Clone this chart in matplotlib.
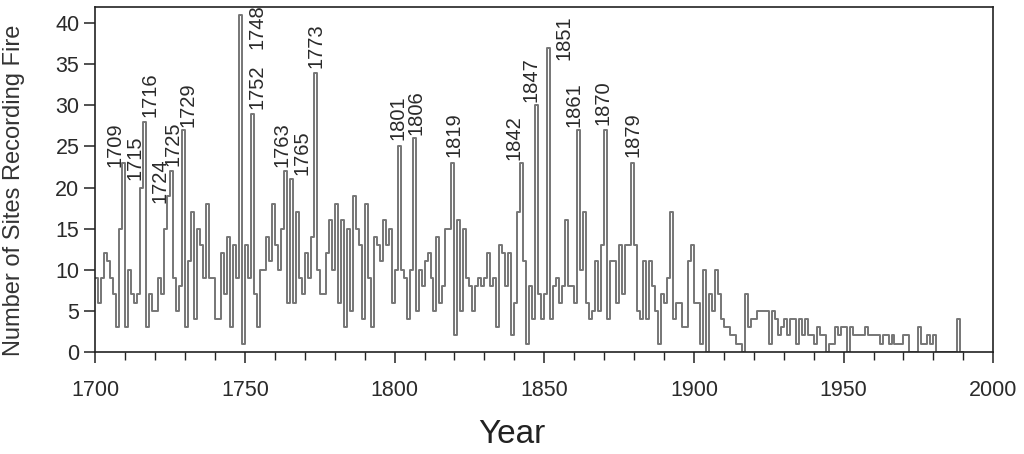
import matplotlib
matplotlib.use("Agg")
import matplotlib.pyplot as plt
from matplotlib.ticker import MultipleLocator

plt.rcParams['font.family'] = ['Liberation Sans', 'DejaVu Sans']

first_year = 1700
fires = [
    9, 6, 9, 12, 11, 9, 7, 3, 15, 23,        # 1700s
    3, 10, 7, 6, 7, 20, 28, 3, 7, 5,         # 1710s
    5, 9, 7, 15, 19, 22, 9, 5, 8, 27,        # 1720s
    3, 11, 17, 4, 15, 13, 9, 18, 9, 9,       # 1730s
    4, 4, 12, 7, 14, 3, 13, 9, 41, 1,        # 1740s
    13, 9, 29, 7, 3, 10, 10, 14, 11, 18,     # 1750s
    13, 10, 15, 22, 6, 21, 6, 17, 9, 7,      # 1760s
    12, 9, 14, 34, 10, 7, 7, 12, 16, 10,     # 1770s
    18, 6, 16, 3, 15, 5, 19, 15, 13, 4,      # 1780s
    18, 9, 3, 14, 13, 11, 16, 13, 15, 6,     # 1790s
    10, 25, 10, 9, 4, 10, 26, 5, 10, 8,      # 1800s
    11, 12, 9, 5, 14, 6, 8, 15, 15, 23,      # 1810s
    2, 16, 5, 15, 9, 8, 5, 8, 9, 8,          # 1820s
    9, 12, 8, 9, 3, 13, 12, 8, 12, 2,        # 1830s
    6, 17, 23, 11, 1, 8, 4, 30, 7, 4,        # 1840s
    7, 37, 4, 8, 9, 6, 8, 16, 8, 8,          # 1850s
    6, 27, 10, 17, 6, 4, 5, 11, 5, 13,       # 1860s
    27, 4, 11, 11, 6, 13, 7, 13, 13, 23,     # 1870s
    13, 5, 4, 11, 4, 11, 8, 5, 1, 7,         # 1880s
    6, 9, 17, 4, 6, 6, 3, 3, 11, 13,         # 1890s
    6, 6, 1, 10, 0, 7, 5, 10, 7, 4,          # 1900s
    3, 3, 2, 2, 1, 1, 0, 7, 3, 4,            # 1910s
    4, 5, 5, 5, 5, 1, 5, 4, 2, 3,            # 1920s
    4, 2, 4, 4, 1, 4, 2, 4, 2, 2,            # 1930s
    1, 3, 2, 2, 0, 1, 1, 3, 2, 3,            # 1940s
    3, 0, 3, 2, 2, 2, 2, 3, 2, 2,            # 1950s
    2, 2, 1, 2, 2, 1, 2, 1, 1, 1,            # 1960s
    2, 2, 0, 0, 0, 3, 1, 1, 2, 1,            # 1970s
    2, 0, 0, 0, 0, 0, 0, 0, 4, 0,            # 1980s
    0,
]
years = list(range(first_year, first_year + len(fires)))

labelled = [1709, 1715, 1716, 1724, 1725, 1729, 1748, 1752, 1763, 1765,
            1773, 1801, 1806, 1819, 1842, 1847, 1851, 1861, 1870, 1879]

# where each year label sits (x, bottom of text), hand placed like the original
label_xy = {
    1709: (1706.7, 22.5), 1715: (1713.3, 20.9), 1716: (1718.3, 28.6),
    1724: (1721.6, 18.1), 1725: (1726.0, 22.6), 1729: (1730.9, 27.4),
    1748: (1754.0, 36.9), 1752: (1754.0, 29.6), 1763: (1762.3, 22.5),
    1765: (1769.0, 21.5), 1773: (1773.7, 34.5), 1801: (1801.3, 25.8),
    1806: (1807.2, 26.4), 1819: (1820.0, 23.7), 1842: (1840.0, 23.4),
    1847: (1845.7, 30.4), 1851: (1856.7, 35.5), 1861: (1860.0, 27.4),
    1870: (1869.7, 27.6), 1879: (1879.7, 23.7),
}

fig = plt.figure(figsize=(10.24, 4.54), dpi=100)
ax = fig.add_axes([0.093, 0.225, 0.877, 0.76])

ax.step(years, fires, where='post', color='#767676', lw=1.4)

for yr in labelled:
    x, y = label_xy[yr]
    ax.text(x, y, str(yr), rotation=90, ha='center', va='bottom',
            fontsize=14.5, color='#2a2a2a')

ax.set_xlim(1700, 2000)
ax.set_ylim(0, 42)
ax.xaxis.set_major_locator(MultipleLocator(50))
ax.xaxis.set_minor_locator(MultipleLocator(10))
ax.yaxis.set_major_locator(MultipleLocator(5))
ax.tick_params(which='major', direction='out', length=8, width=1.1,
               labelsize=15.5, color='#222222', labelcolor='#2a2a2a')
ax.tick_params(axis='x', which='major', pad=12)
ax.tick_params(which='minor', direction='out', length=6, width=1.0, color='#222222')
for s in ax.spines.values():
    s.set_linewidth(1.2)
    s.set_color('#222222')

fig.text(0.0137, 0.58, 'Number of Sites Recording Fire', rotation=90,
         ha='center', va='center', fontsize=17, color='#333333')
fig.text(0.5, 0.044, 'Year', ha='center', va='center', fontsize=24, color='#222222')

fig.savefig('out.png', dpi=100)
